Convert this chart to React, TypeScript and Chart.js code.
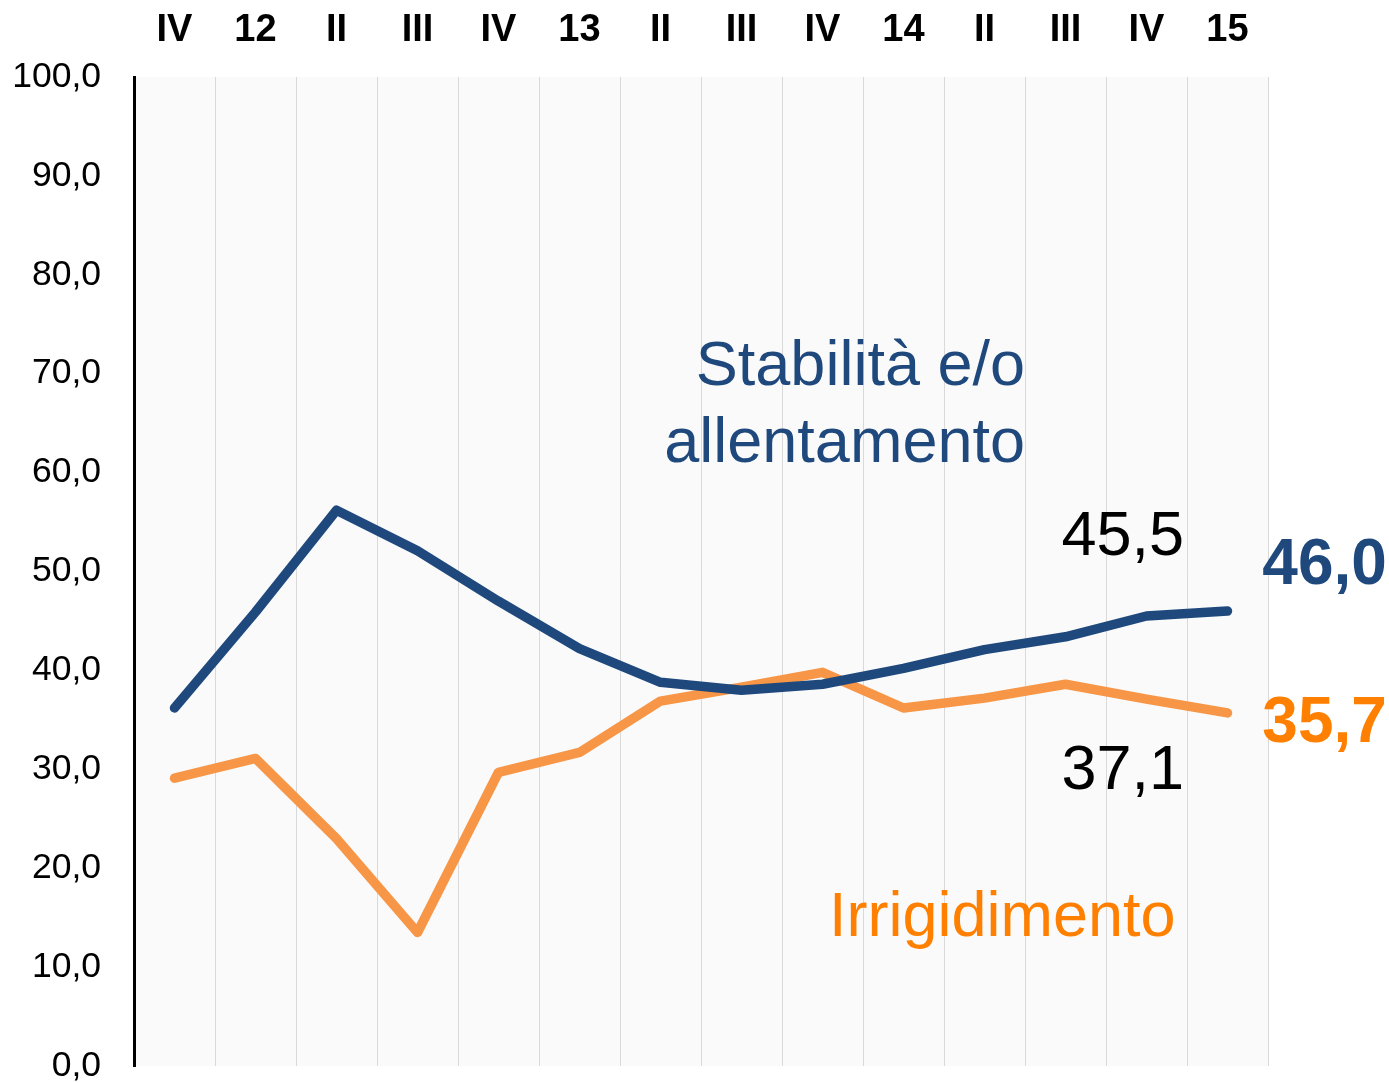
import React, { useEffect, useRef } from "react";
import { Chart, registerables } from "chart.js";

Chart.register(...registerables);

const categories = ["IV", "12", "II", "III", "IV", "13", "II", "III", "IV", "14", "II", "III", "IV", "15"];
const stabilita = [36.2, 45.9, 56.2, 52.1, 47.0, 42.2, 38.8, 38.0, 38.6, 40.2, 42.1, 43.4, 45.5, 46.0];
const irrigidimento = [29.1, 31.1, 23.0, 13.5, 29.7, 31.7, 36.9, 38.3, 39.8, 36.2, 37.2, 38.6, 37.1, 35.7];
const yTicks = [0, 10, 20, 30, 40, 50, 60, 70, 80, 90, 100];

const BLUE = "#1F497D";
const ORANGE_LINE = "#F79646";
const ORANGE_TEXT = "#FF8000";
const FONT = "'Liberation Sans', Arial, sans-serif";

// annotations: x in category units, y in value units
const annotations = [
  { text: "Stabilità e/o", x: 10.5, y: 68.9, align: "right", color: BLUE, size: 63, bold: false },
  { text: "allentamento", x: 10.5, y: 61.1, align: "right", color: BLUE, size: 63, bold: false },
  { text: "Irrigidimento", x: 12.36, y: 13.1, align: "right", color: ORANGE_TEXT, size: 63, bold: false },
  { text: "45,5", x: 10.95, y: 51.7, align: "left", color: "#000000", size: 63, bold: false },
  { text: "37,1", x: 10.95, y: 28.0, align: "left", color: "#000000", size: 63, bold: false },
  { text: "46,0", x: 13.43, y: 48.7, align: "left", color: BLUE, size: 64, bold: true },
  { text: "35,7", x: 13.43, y: 32.8, align: "left", color: ORANGE_TEXT, size: 64, bold: true },
];

const bgPlugin = {
  id: "plotBg",
  beforeDraw(chart: any) {
    const { ctx, chartArea } = chart;
    ctx.save();
    ctx.fillStyle = "#FAFAFA";
    ctx.fillRect(chartArea.left, chartArea.top, chartArea.right - chartArea.left, chartArea.bottom - chartArea.top);
    ctx.restore();
  },
};

const annotationPlugin = {
  id: "textNotes",
  afterDatasetsDraw(chart: any) {
    const { ctx } = chart;
    const xs = chart.scales.x;
    const ys = chart.scales.y;
    ctx.save();
    for (const a of annotations) {
      ctx.font = `${a.bold ? "bold " : ""}${a.size}px ${FONT}`;
      ctx.fillStyle = a.color;
      ctx.textAlign = a.align as CanvasTextAlign;
      ctx.textBaseline = "alphabetic";
      ctx.fillText(a.text, xs.getPixelForValue(a.x), ys.getPixelForValue(a.y));
    }
    ctx.restore();
  },
};

export default function App() {
  const ref = useRef<HTMLCanvasElement | null>(null);
  useEffect(() => {
    document.body.style.margin = "0";
    if (!ref.current) return;
    const chart = new Chart(ref.current, {
      type: "line",
      data: {
        labels: categories,
        datasets: [
          {
            label: "Stabilità e/o allentamento",
            data: stabilita,
            borderColor: BLUE,
            backgroundColor: BLUE,
            borderWidth: 9.5,
            pointRadius: 0,
            borderCapStyle: "round",
            borderJoinStyle: "round",
            tension: 0,
          },
          {
            label: "Irrigidimento",
            data: irrigidimento,
            borderColor: ORANGE_LINE,
            backgroundColor: ORANGE_LINE,
            borderWidth: 9.5,
            pointRadius: 0,
            borderCapStyle: "round",
            borderJoinStyle: "round",
            tension: 0,
          },
        ],
      },
      options: {
        animation: false,
        responsive: false,
        maintainAspectRatio: false,
        layout: { padding: { left: 0, top: 0, right: 121, bottom: 17 } },
        plugins: { legend: { display: false }, tooltip: { enabled: false } },
        scales: {
          x: {
            position: "top",
            offset: true,
            grid: { display: true, offset: true, color: "#D9D9D9", lineWidth: 1, drawTicks: false },
            border: { display: false },
            ticks: {
              autoSkip: false,
              maxRotation: 0,
              padding: 24,
              color: "#000000",
              font: { family: FONT, size: 38, weight: "bold" },
            },
            afterFit(scale: any) {
              scale.height = 77;
              scale.paddingLeft = 0;
              scale.paddingRight = 0;
            },
          },
          y: {
            min: 0,
            max: 100,
            grid: { display: false, drawTicks: false },
            border: { display: true, color: "#000000", width: 3 },
            afterBuildTicks(scale: any) {
              scale.ticks = yTicks.map((v) => ({ value: v }));
            },
            ticks: {
              padding: 33,
              color: "#000000",
              font: { family: FONT, size: 35.5 },
              callback: (v: any) => Number(v).toFixed(1).replace(".", ","),
            },
            afterFit(scale: any) {
              scale.width = 134;
              scale.paddingTop = 0;
              scale.paddingBottom = 0;
            },
          },
        },
      },
      plugins: [bgPlugin, annotationPlugin],
    });
    return () => chart.destroy();
  }, []);
  return (
    <div style={{ width: 1389, height: 1083, background: "#FFFFFF" }}>
      <canvas ref={ref} width={1389} height={1083} style={{ display: "block" }} />
    </div>
  );
}
